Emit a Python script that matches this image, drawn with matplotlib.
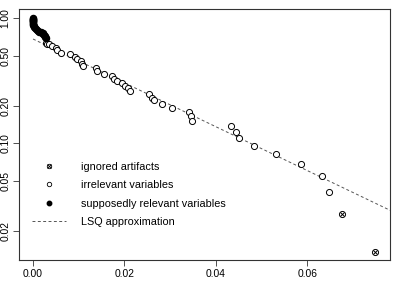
import matplotlib
matplotlib.use("Agg")
import matplotlib.pyplot as plt
from matplotlib.lines import Line2D

plt.rcParams['font.family'] = ['Liberation Sans', 'DejaVu Sans']

# supposedly relevant variables (filled)
rel_x = [0.0, 0.0, 0.0, 0.00002, 0.00002, 0.00004, 0.00004, 0.00006, 0.00008, 0.0001,
         0.00004, 0.00011, 0.00022, 0.00039, 0.00061, 0.00087, 0.00114, 0.0014,
         0.00164, 0.00186, 0.00208, 0.00225, 0.0024, 0.00254, 0.00267, 0.00275]
rel_y = [1.0, 0.99, 0.982, 0.972, 0.964, 0.955, 0.946, 0.929, 0.912, 0.896,
         0.88, 0.864, 0.848, 0.832, 0.817, 0.802, 0.79, 0.78,
         0.773, 0.765, 0.755, 0.745, 0.732, 0.718, 0.705, 0.693]

# irrelevant variables (open)
irr_x = [0.00278, 0.00299, 0.0035, 0.00415, 0.00503, 0.00531, 0.00606, 0.00809,
         0.00918, 0.00955, 0.01043, 0.01078, 0.011, 0.01371, 0.01406, 0.01546,
         0.01727, 0.01771, 0.0183, 0.01939, 0.02005, 0.0207, 0.0212, 0.02536,
         0.02595, 0.02639, 0.02813, 0.03032, 0.03417, 0.03454, 0.03476, 0.04322,
         0.04438, 0.0451, 0.04831, 0.05312, 0.05858, 0.06329, 0.06477]
irr_y = [0.635, 0.617, 0.615, 0.601, 0.58, 0.552, 0.529, 0.514,
         0.491, 0.469, 0.454, 0.432, 0.412, 0.397, 0.378, 0.358,
         0.343, 0.326, 0.315, 0.302, 0.287, 0.277, 0.262, 0.246,
         0.231, 0.221, 0.206, 0.193, 0.179, 0.165, 0.152, 0.137,
         0.124, 0.11, 0.0953, 0.0819, 0.0681, 0.0547, 0.0408]

# ignored artifacts
art_x = [0.06755, 0.07482]
art_y = [0.0272, 0.01354]

# LSQ approximation end points
lsq_x = [0.0, 0.08]
lsq_y = [0.68, 0.0271]

yticks = [0.02, 0.05, 0.10, 0.20, 0.50, 1.00]
xticks = [0.00, 0.02, 0.04, 0.06]

fig = plt.figure(figsize=(3.99, 2.81), dpi=100)
ax = fig.add_axes([0.0484, 0.0747, 0.9283, 0.8933])

ax.set_yscale('log')
ms = 4.4
ax.plot(lsq_x, lsq_y, color='#555555', lw=0.7, dashes=(3, 2.5))
ax.plot(irr_x, irr_y, 'o', mfc='white', mec='black', mew=0.7, ms=ms, ls='none')
ax.plot(rel_x, rel_y, 'o', color='black', ms=ms, ls='none')
ax.plot(art_x, art_y, 'o', mfc='white', mec='black', mew=0.7, ms=ms, ls='none')
ax.plot(art_x, art_y, 'x', color='black', mew=0.7, ms=ms * 0.7, ls='none')

ax.set_xlim(-0.003, 0.078)
ax.set_ylim(0.01175, 1.18)
ax.set_xticks(xticks)
ax.set_xticklabels(['%.2f' % v for v in xticks])
ax.set_yticks(yticks)
ax.set_yticklabels(['%.2f' % v for v in yticks], rotation=90, va='center')
ax.minorticks_off()
ax.tick_params(labelsize=7.4, length=4.3, width=0.6, color='#333333', pad=2)
for s in ax.spines.values():
    s.set_color('#333333')
    s.set_linewidth(0.8)

lh = 3.2
handles = [
    (Line2D([], [], marker='o', mfc='white', mec='black', mew=0.6, ms=lh, ls='none'),
     Line2D([], [], marker='x', color='black', mew=0.6, ms=lh * 0.7, ls='none')),
    Line2D([], [], marker='o', mfc='white', mec='black', mew=0.6, ms=lh, ls='none'),
    Line2D([], [], marker='o', color='black', ms=lh, ls='none'),
    Line2D([], [], color='#555555', lw=0.7, dashes=(3, 2.5)),
]
labels = ['ignored artifacts', 'irrelevant variables',
          'supposedly relevant variables', 'LSQ approximation']
ax.legend(handles, labels, loc='upper left', bbox_to_anchor=(0.0335, 0.392),
          frameon=False, fontsize=7.8, handlelength=3.15, handletextpad=1.44,
          labelspacing=0.78, borderpad=0, borderaxespad=0)

fig.savefig('out.png', dpi=100)
